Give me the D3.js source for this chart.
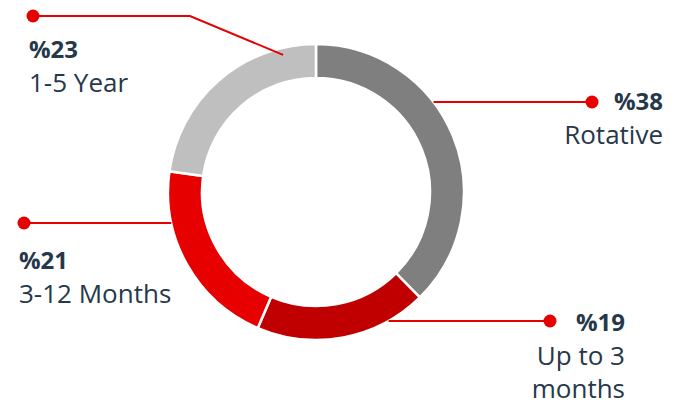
<!DOCTYPE html>
<html>
<head>
<meta charset="utf-8">
<script src="https://cdn.jsdelivr.net/npm/d3@7"></script>
<style>
  body { margin: 0; background: #fff; }
  text { font-family: "Open Sans", sans-serif; fill: #263849; }
</style>
</head>
<body>
<div id="chart"></div>
<script>
// chart values, clockwise from 12 o'clock
var categories = ["Rotative", "Up to 3 months", "3-12 Months", "1-5 Year"];
var values = [38, 19, 21, 23];
var pctLabels = ["%38", "%19", "%21", "%23"];
var nameLines = [["Rotative"], ["Up to 3", "months"], ["3-12 Months"], ["1-5 Year"]];
var colors = ["#7f7f7f", "#c00000", "#e60000", "#bfbfbf"];

var width = 686, height = 403;
var cx = 316, cy = 192, outerR = 148, innerR = 114;
var red = "#e60000";

// where each callout sits (dot position, text anchor, leader line y / elbow)
var callouts = [
    {dot: [592, 102], anchor: "end", tx: 663, ty: 110},
    {dot: [550, 321], anchor: "end", tx: 625, ty: 331},
    {dot: [24, 223], anchor: "start", tx: 19, ty: 269},
    {dot: [33, 16], anchor: "start", tx: 29, ty: 58, elbow: 190, endAngle: 346.5, endR: 141}
];

var svg = d3.select("#chart").append("svg")
    .attr("width", width)
    .attr("height", height);

var g = svg.append("g")
    .attr("transform", "translate(" + cx + "," + cy + ")");

var pie = d3.pie()
    .sort(null)
    .value(function(d) { return d; });

var arc = d3.arc()
    .innerRadius(innerR)
    .outerRadius(outerR);

g.selectAll(".slice")
    .data(pie(values))
    .enter().append("path")
    .attr("class", "slice")
    .attr("fill", function(d, i) { return colors[i]; })
    .attr("stroke", "#fff")
    .attr("stroke-width", 2.5)
    .attr("d", arc);

// leader lines
callouts.forEach(function(c, i) {
    var pts;
    if (c.elbow) {
        var a = c.endAngle * Math.PI / 180;
        var ex = cx + c.endR * Math.sin(a), ey = cy - c.endR * Math.cos(a);
        pts = [c.dot, [c.elbow, c.dot[1]], [ex, ey]];
    } else {
        var dy = c.dot[1] - cy;
        var dx = Math.sqrt(outerR * outerR - dy * dy);
        var sx = c.dot[0] > cx ? cx + dx : cx - dx;
        pts = [c.dot, [sx, c.dot[1]]];
    }
    svg.append("path")
        .attr("d", d3.line()(pts))
        .attr("fill", "none")
        .attr("stroke", red)
        .attr("stroke-width", 2);

    svg.append("circle")
        .attr("cx", c.dot[0])
        .attr("cy", c.dot[1])
        .attr("r", 6.5)
        .attr("fill", red);

    var t = svg.append("text")
        .attr("x", c.tx)
        .attr("y", c.ty)
        .attr("text-anchor", c.anchor)
        .style("font-size", "26px");

    t.append("tspan")
        .attr("x", c.tx)
        .style("font-weight", "bold")
        .style("font-size", "24px")
        .text(pctLabels[i]);

    nameLines[i].forEach(function(line) {
        t.append("tspan")
            .attr("x", c.tx)
            .attr("dy", 33.5)
            .text(line);
    });
});
</script>
</body>
</html>
